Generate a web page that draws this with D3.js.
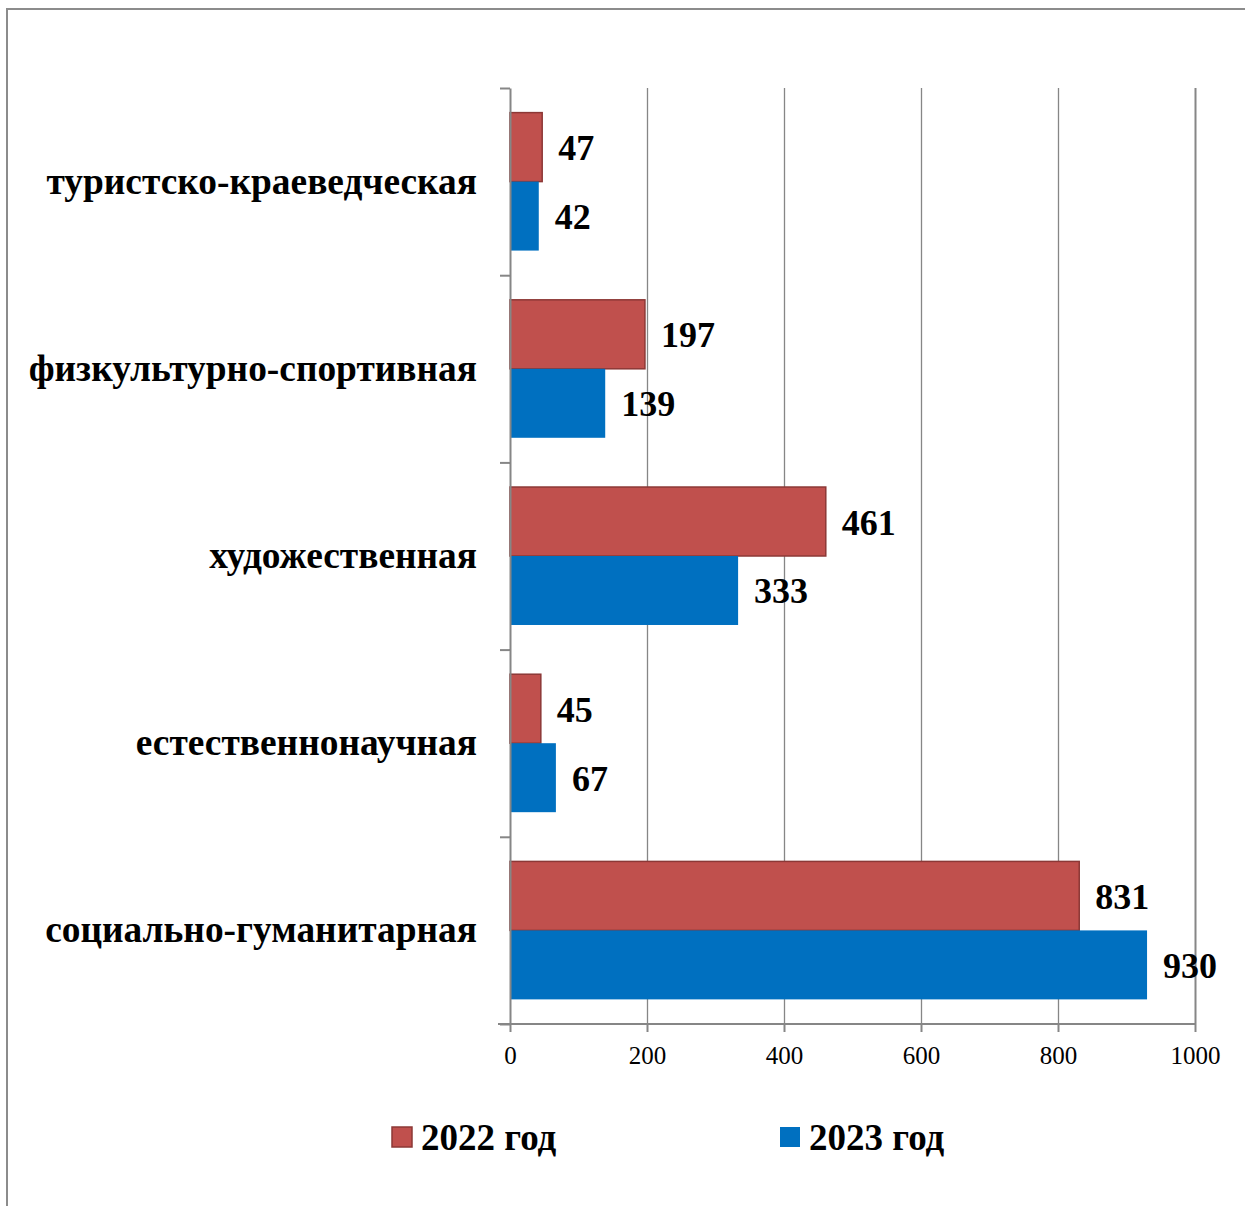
<!DOCTYPE html>
<html>
<head>
<meta charset="utf-8">
<script src="https://cdn.jsdelivr.net/npm/d3@7"></script>
<style>
  body { margin: 0; background: #fff; }
  svg { display: block; font-family: "Liberation Serif", "Times New Roman", serif; }
</style>
</head>
<body>
<svg id="chart" width="1245" height="1206"></svg>
<script>
// data
var categories = ["туристско-краеведческая", "физкультурно-спортивная", "художественная",
                  "естественнонаучная", "социально-гуманитарная"];
var years = ["2022 год", "2023 год"];
var values2022 = [47, 197, 461, 45, 831];
var values2023 = [42, 139, 333, 67, 930];
var xTicks = [0, 200, 400, 600, 800, 1000];
var colors = {"2022 год": "#C0504D", "2023 год": "#0070C0"};
var strokes = {"2022 год": "#8C3836", "2023 год": "none"};

var svg = d3.select("#chart");

// frame around the chart (cut by the page edges)
svg.append("rect")
    .attr("x", 7).attr("y", 9)
    .attr("width", 1300).attr("height", 1300)
    .attr("fill", "none").attr("stroke", "#8c8c8c").attr("stroke-width", 2);

var plotTop = 88, plotBottom = 1024, plotLeft = 510, plotRight = 1195;

var x = d3.scaleLinear().domain([0, 1000]).range([plotLeft, plotRight]);
var y = d3.scaleBand().domain(categories).range([plotTop, plotBottom])
    .paddingInner(0.263).paddingOuter(0.1315);
var ySub = d3.scaleBand().domain(years).range([0, y.bandwidth()]);
var yEdge = d3.scaleLinear().domain([0, categories.length]).range([plotTop, plotBottom]);

// vertical gridlines
svg.append("g").selectAll("line")
    .data(xTicks.slice(1))
    .enter().append("line")
    .attr("x1", d => x(d) + 0.5).attr("x2", d => x(d) + 0.5)
    .attr("y1", plotTop).attr("y2", plotBottom)
    .attr("stroke", "#868686").attr("stroke-width", d => d == 1000 ? 2 : 1.3);

// bars
var rows = categories.map((c, i) => ({cat: c, vals: [values2022[i], values2023[i]]}));
var groups = svg.append("g").selectAll("g")
    .data(rows)
    .enter().append("g")
    .attr("transform", d => "translate(0," + y(d.cat) + ")");

groups.selectAll("rect")
    .data(d => d.vals.map((v, j) => ({year: years[j], v: v})))
    .enter().append("rect")
    .attr("x", x(0))
    .attr("y", d => ySub(d.year))
    .attr("width", d => x(d.v) - x(0))
    .attr("height", ySub.bandwidth())
    .attr("fill", d => colors[d.year])
    .attr("stroke", d => strokes[d.year])
    .attr("stroke-width", 1.5);

groups.selectAll("text.val")
    .data(d => d.vals.map((v, j) => ({year: years[j], v: v})))
    .enter().append("text")
    .attr("class", "val")
    .attr("x", d => x(d.v) + 16)
    .attr("y", d => ySub(d.year) + ySub.bandwidth() / 2 + 13)
    .attr("font-size", 36).attr("font-weight", "bold").attr("fill", "#000")
    .text(d => d.v);

// left axis with ticks at category boundaries
var yAxis = svg.append("g")
    .attr("transform", "translate(" + plotLeft + ",0)")
    .call(d3.axisLeft(yEdge).ticks(categories.length).tickSize(10).tickSizeOuter(0).tickFormat(""));
yAxis.selectAll("path, line").attr("stroke", "#868686").attr("stroke-width", 2);

// category labels
svg.append("g").selectAll("text")
    .data(categories)
    .enter().append("text")
    .attr("x", 477)
    .attr("y", d => y(d) + y.bandwidth() / 2 + 12)
    .attr("text-anchor", "end")
    .attr("font-size", 37.4).attr("font-weight", "bold").attr("fill", "#000")
    .text(d => d);

// bottom axis
var xAxis = svg.append("g")
    .attr("transform", "translate(0," + plotBottom + ")")
    .call(d3.axisBottom(x).tickValues(xTicks).tickFormat(d3.format("d"))
          .tickSize(8).tickSizeOuter(0).tickPadding(14));
xAxis.select("path").remove();
xAxis.append("line").attr("x1", 498).attr("x2", plotRight).attr("y1", 0).attr("y2", 0);
xAxis.selectAll("line").attr("stroke", "#868686").attr("stroke-width", 2);
xAxis.selectAll("text")
    .attr("font-size", 25).attr("fill", "#000")
    .attr("font-family", "Liberation Serif");

// legend
var legendX = [392, 780];
var legend = svg.append("g").selectAll("g")
    .data(years)
    .enter().append("g")
    .attr("transform", (d, i) => "translate(" + legendX[i] + ",1127)");
legend.append("rect")
    .attr("width", 20).attr("height", 20)
    .attr("fill", d => colors[d])
    .attr("stroke", d => strokes[d]).attr("stroke-width", 1.5);
legend.append("text")
    .attr("x", 29).attr("y", 23)
    .attr("font-size", 37).attr("font-weight", "bold").attr("fill", "#000")
    .text(d => d);
</script>
</body>
</html>
